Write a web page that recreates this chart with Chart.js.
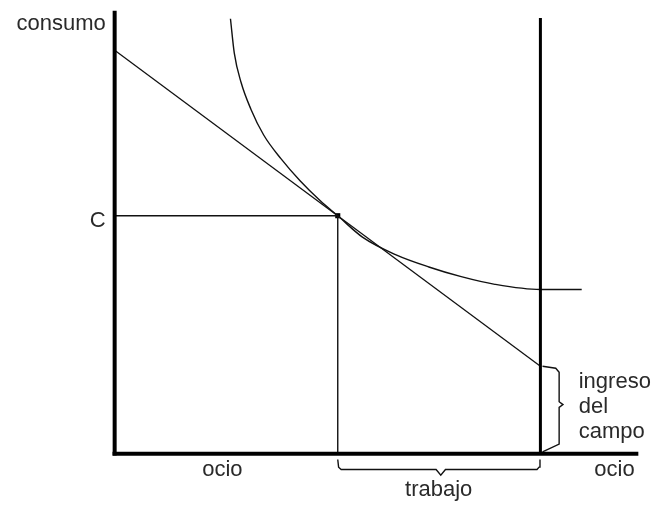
<!DOCTYPE html>
<html>
<head>
<meta charset="utf-8">
<style>
  html, body { margin: 0; padding: 0; background: #fff; }
  #wrap { width: 658px; height: 510px; position: relative; }
</style>
<script src="https://cdn.jsdelivr.net/npm/chart.js@4/dist/chart.umd.min.js"></script>
</head>
<body>
<div id="wrap"><canvas id="c"></canvas></div>
<script>
// ---- data (ocio on x, consumo on y) ----
const totalTime = 10;          // ocio total (line vertical)
const fieldIncome = 2.17;      // ingreso del campo
const maxConsumption = 10;     // budget intercept
const tangentOcio = 5.24;
const tangentC = 5.9;
const curveOcio = [2.72, 2.81, 2.97, 3.20, 3.50, 3.90, 4.36, 4.83, 5.24, 5.82, 6.61, 7.38, 8.14, 8.93, 10.0, 10.97];
const curveC    = [10.78, 9.93, 9.20, 8.54, 7.90, 7.32, 6.76, 6.27, 5.90, 5.37, 4.93, 4.63, 4.39, 4.20, 4.07, 4.07];
const axisXMax = 12.3;
const axisYMax = 10.98;
const lineTop = 10.8;
const labelTexts = ["consumo", "C", "ocio", "ocio", "trabajo", "ingreso", "del", "campo"];

// braces (drawn shapes in data units)
const braceWorkX = [5.24, 5.26, 5.32, 7.55, 7.66, 7.77, 9.92, 9.97, 9.99];
const braceWorkY = [-0.14, -0.33, -0.39, -0.39, -0.53, -0.39, -0.39, -0.33, -0.14];
const braceFieldX = [10.05, 10.36, 10.44, 10.44, 10.53, 10.44, 10.44, 10.05];
const braceFieldY = [2.17, 2.12, 2.02, 1.29, 1.22, 1.15, 0.24, 0.05];

const pts = (xs, ys) => xs.map((x, i) => ({x, y: ys[i]}));

const lineDs = (data, width, color) => ({
  type: 'line', data, borderColor: color || '#000', borderWidth: width,
  pointRadius: 0, fill: false, tension: 0, showLine: true
});

const curve = lineDs(pts(curveOcio, curveC), 1.4, '#111');
curve.cubicInterpolationMode = 'monotone';

const labelPlugin = {
  id: 'labels',
  afterDatasetsDraw(chart) {
    const {ctx, scales: {x, y}} = chart;
    const spots = [
      {x: -0.21, y: 10.49, align: 'right'},
      {x: -0.21, y: 5.61, align: 'right'},
      {x: 2.53, y: -0.56, align: 'center'},
      {x: 11.74, y: -0.56, align: 'center'},
      {x: 7.61, y: -1.05, align: 'center'},
      {x: 10.9, y: 1.63, align: 'left'},
      {x: 10.9, y: 1.0, align: 'left'},
      {x: 10.9, y: 0.39, align: 'left'}
    ];
    ctx.save();
    ctx.fillStyle = '#2a2a2a';
    ctx.font = '22px "Liberation Sans", Arial, sans-serif';
    ctx.textBaseline = 'alphabetic';
    labelTexts.forEach((t, i) => {
      const s = spots[i];
      ctx.textAlign = s.align;
      ctx.fillText(t, x.getPixelForValue(s.x), y.getPixelForValue(s.y));
    });
    ctx.restore();
  }
};

new Chart(document.getElementById('c'), {
  type: 'scatter',
  data: {
    datasets: [
      lineDs([{x: 0, y: -0.04}, {x: 0, y: axisYMax}], 4),
      lineDs([{x: -0.05, y: 0}, {x: axisXMax, y: 0}], 4),
      lineDs([{x: totalTime, y: 0}, {x: totalTime, y: lineTop}], 3),
      lineDs([{x: 0, y: maxConsumption}, {x: totalTime, y: fieldIncome}], 1.3, '#111'),
      curve,
      lineDs([{x: 0, y: tangentC}, {x: tangentOcio, y: tangentC}, {x: tangentOcio, y: 0}], 1.4, '#111'),
      lineDs(pts(braceWorkX, braceWorkY), 1.4, '#111'),
      lineDs(pts(braceFieldX, braceFieldY), 1.4, '#111'),
      {type: 'scatter', data: [{x: tangentOcio, y: tangentC}], pointStyle: 'rect',
       pointRadius: 3.6, backgroundColor: '#000', borderColor: '#000', borderWidth: 0}
    ]
  },
  options: {
    responsive: true, maintainAspectRatio: false, animation: false,
    layout: {padding: 0},
    plugins: {legend: {display: false}, tooltip: {enabled: false}},
    scales: {
      x: {type: 'linear', display: false, min: -2.599, max: 12.668},
      y: {type: 'linear', display: false, min: -1.293, max: 11.146}
    }
  },
  plugins: [labelPlugin]
});
</script>
</body>
</html>
